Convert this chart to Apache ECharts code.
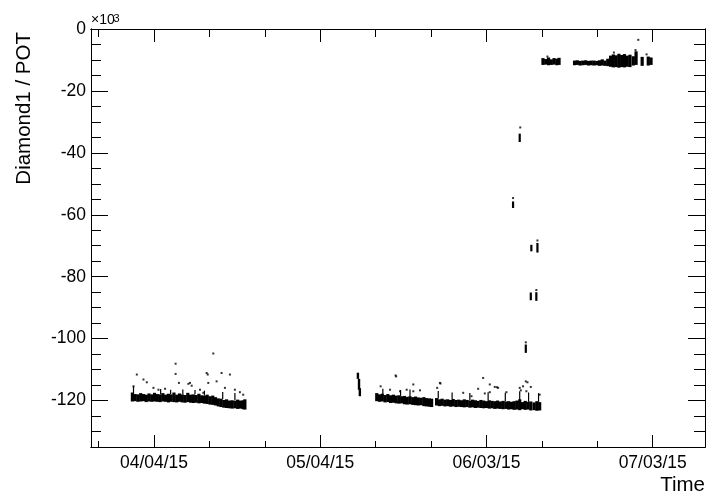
<!DOCTYPE html>
<html>
<head>
<meta charset="utf-8">
<script src="https://cdn.jsdelivr.net/npm/echarts@6/dist/echarts.min.js"></script>
<style>
  html, body { margin: 0; padding: 0; background: #fff; }
  #chart { width: 711px; height: 498px; }
</style>
</head>
<body>
<div id="chart"></div>
<script>
// Time axis: days counted from 04/04/15 (UTC)
const baseDate = Date.UTC(2015, 3, 4);
const xRange = [-11.37, 99.44];
const yRange = [-135, 0];

// Axis tick positions (days / units of 10^3)
const xMajorTicks = [0, 30, 60, 90];
const xMinorTicks = [-10, 10, 20, 40, 50, 70, 80];
const yMajorTicks = [0, -20, -40, -60, -80, -100, -120];
const yMinorTicks = [-5, -10, -15, -25, -30, -35, -45, -50, -55, -65, -70, -75,
                     -85, -90, -95, -105, -110, -115, -125, -130];

// Dense readout bands: [day, low, high] in units of 10^3
const bandApril = [
  [-3.9, -120.3, -117.4], [-3.4, -120.2, -117.9], [-2.9, -120.4, -118.0], [-2.4, -120.3, -117.6],
  [-1.9, -120.2, -117.9], [-1.4, -120.5, -118.1], [-0.9, -120.3, -117.7], [-0.4, -120.4, -118.0],
  [0.1, -120.3, -117.5], [0.6, -120.4, -117.9], [1.1, -120.5, -118.0], [1.6, -120.3, -117.6],
  [2.1, -120.4, -118.1], [2.6, -120.6, -117.8], [3.1, -120.4, -118.0], [3.6, -120.5, -117.4],
  [4.1, -120.6, -118.1], [4.6, -120.4, -117.7], [5.1, -120.6, -118.0], [5.6, -120.7, -118.2],
  [6.1, -120.5, -117.5], [6.6, -120.7, -118.1], [7.1, -120.8, -118.0], [7.6, -120.7, -118.2],
  [8.1, -120.9, -117.8], [8.6, -120.8, -118.3], [9.1, -121.0, -118.4], [9.6, -121.1, -118.1],
  [10.1, -121.3, -118.6], [10.6, -121.4, -118.4], [11.1, -121.6, -118.9], [11.6, -121.9, -119.3],
  [12.1, -122.1, -119.4], [12.6, -122.3, -119.8], [13.1, -122.4, -119.6], [13.6, -122.5, -120.0],
  [14.1, -122.6, -119.9], [14.6, -122.5, -120.1], [15.1, -122.7, -119.7], [15.6, -122.6, -120.0],
  [16.1, -122.8, -119.9], [16.4, -122.9, -119.6]
];

const bandMay = [
  [36.8, -113.0, -111.0], [37.0, -116.5, -113.0], [37.15, -118.6, -116.0]
];

const bandJune = [
  [40.2, -120.2, -117.6], [40.7, -120.4, -118.0], [41.2, -120.3, -117.8], [41.7, -120.6, -118.2],
  [42.2, -120.5, -117.9], [42.7, -120.8, -118.3], [43.2, -120.7, -118.1], [43.7, -120.9, -118.4],
  [44.2, -121.0, -118.3], [44.7, -120.9, -118.6], [45.2, -121.2, -118.5], [45.7, -121.3, -118.8],
  [46.2, -121.2, -118.6], [46.7, -121.4, -118.9], [47.2, -121.5, -118.7], [47.7, -121.6, -119.0],
  [48.2, -121.5, -119.1], [48.7, -121.8, -118.9], [49.2, -121.9, -119.2], [49.7, -122.0, -119.3],
  [50.1, -122.1, -119.4],
  [51.0, -121.6, -119.2], [51.5, -121.8, -119.6], [52.0, -121.7, -119.4], [52.5, -121.9, -119.7],
  [53.0, -121.8, -119.6], [53.5, -122.0, -119.8], [54.0, -121.9, -119.5], [54.5, -122.1, -119.8],
  [55.0, -122.0, -119.7], [55.5, -122.1, -119.9], [56.0, -122.2, -119.6], [56.5, -122.1, -119.8],
  [57.0, -122.3, -120.0], [57.5, -122.2, -119.7], [58.0, -122.4, -119.9], [58.5, -122.3, -120.1],
  [59.0, -122.4, -119.8], [59.5, -122.5, -120.0], [60.0, -122.4, -120.2], [60.5, -122.6, -119.9],
  [61.0, -122.5, -120.1], [61.5, -122.7, -120.2], [62.0, -122.6, -120.0], [62.5, -122.7, -120.3],
  [63.0, -122.8, -120.1], [63.5, -122.7, -120.3], [64.0, -122.9, -120.2], [64.5, -122.8, -120.4],
  [65.0, -123.0, -120.2], [65.5, -122.9, -120.0], [66.0, -123.1, -119.6], [66.5, -122.8, -120.5],
  [67.0, -123.0, -120.1], [67.5, -122.9, -120.4], [68.0, -123.2, -120.3], [68.6, -123.1, -120.6],
  [69.1, -123.3, -120.2], [69.6, -123.2, -120.5]
];

// Short runs while the level changes
const transitionRuns = [
  [66.0, -36.5, -33.8], [64.8, -57.8, -55.7], [68.1, -71.8, -69.7], [69.2, -72.2, -69.1],
  [68.0, -87.6, -85.1], [69.0, -87.8, -85.0], [67.1, -104.6, -101.9]
];

const bandJuly = [
  [70.2, -11.6, -9.4], [70.7, -11.5, -9.7], [71.2, -11.7, -9.2], [71.7, -11.6, -9.8],
  [72.2, -11.5, -9.4], [72.7, -11.7, -9.6], [73.1, -11.6, -9.3],
  [75.9, -11.7, -10.2], [76.4, -11.6, -10.1], [76.9, -11.8, -10.3], [77.4, -11.7, -10.2],
  [77.9, -11.6, -10.1], [78.4, -11.8, -10.3], [78.9, -11.7, -10.2], [79.4, -11.8, -10.2],
  [79.9, -11.7, -10.3], [80.4, -11.9, -10.1], [80.9, -11.8, -9.8], [81.4, -11.9, -10.2],
  [81.9, -12.0, -9.6], [82.4, -12.2, -8.6], [82.9, -12.4, -8.2], [83.4, -12.3, -8.5],
  [83.9, -12.5, -8.0], [84.4, -12.3, -8.4], [84.9, -12.4, -8.1], [85.4, -12.2, -8.6],
  [85.9, -12.3, -8.3], [86.5, -11.8, -8.8], [87.0, -11.6, -7.2], [88.1, -11.9, -9.0],
  [89.2, -11.8, -8.9], [89.7, -11.6, -9.2]
];

// Thin upward excursions on top of the bands
const spikes = [
  [-3.7, -118.0, -115.4], [1.2, -118.0, -116.3], [3.0, -118.0, -116.5], [5.2, -118.0, -116.4],
  [7.4, -118.0, -116.6], [9.1, -118.4, -116.8], [12.4, -119.5, -117.2], [14.6, -120.0, -117.6],
  [41.3, -118.0, -116.2], [44.5, -118.5, -116.6], [46.2, -118.7, -116.4], [51.3, -119.3, -116.9],
  [53.8, -119.6, -117.4], [57.0, -120.0, -117.6], [60.3, -120.0, -117.3], [63.4, -120.2, -117.5],
  [66.0, -120.0, -117.0], [67.6, -120.4, -117.4], [69.4, -120.4, -117.6]
];

// Isolated readings
const outliers = [
  [10.7, -104.8], [3.9, -108.1], [-3.1, -111.6], [3.9, -111.4], [-1.9, -113.2], [-1.3, -114.1],
  [-3.7, -115.4], [4.5, -114.3], [6.2, -114.6], [6.8, -115.2], [9.5, -111.1], [12.2, -111.1],
  [11.3, -113.8], [13.7, -111.6], [9.8, -114.3], [14.6, -116.5], [15.5, -117.3], [16.1, -118.1],
  [0.8, -116.5], [2.0, -116.2], [8.3, -116.5], [8.9, -117.5], [12.8, -115.9], [-0.1, -115.9],
  [6.5, -114.3], [9.7, -111.6],
  [43.6, -111.9], [40.9, -115.4], [46.8, -114.8], [45.6, -116.5], [44.4, -117.0], [48.0, -116.7],
  [51.7, -114.5], [51.1, -115.9], [42.6, -116.5], [43.7, -112.2], [51.6, -114.3], [59.4, -112.7],
  [60.6, -114.8], [61.5, -115.6], [62.1, -115.9], [67.1, -113.8], [66.0, -115.9], [67.2, -117.0],
  [46.8, -117.0], [55.8, -117.5], [69.6, -118.1], [61.9, -115.7], [60.6, -117.3], [63.6, -117.3],
  [67.4, -114.1], [66.6, -115.4], [66.2, -116.7], [58.5, -116.2], [57.3, -118.6], [68.0, -115.6],
  [59.7, -117.7],
  [66.1, -31.8], [64.8, -54.6], [69.2, -68.3], [69.0, -84.3], [67.1, -101.2],
  [87.4, -3.5], [71.0, -8.9], [83.0, -7.6], [86.9, -6.8], [88.9, -8.2]
];

function dateLabel(day) {
  const d = new Date(baseDate + Math.round(day) * 86400000);
  const p = n => String(n).padStart(2, '0');
  return p(d.getUTCMonth() + 1) + '/' + p(d.getUTCDate()) + '/' + p(d.getUTCFullYear() % 100);
}

const FONT = 'Liberation Sans, Arial, Helvetica, sans-serif';
const INK = '#000';

// Vertical run of readings drawn as a filled bar between low and high
function runRenderer(widthPx) {
  return function (params, api) {
    const x = api.value(0);
    const top = api.coord([x, api.value(2)]);
    const bottom = api.coord([x, api.value(1)]);
    return {
      type: 'rect',
      shape: { x: top[0] - widthPx / 2, y: top[1], width: widthPx, height: Math.max(1, bottom[1] - top[1]) },
      style: { fill: INK }
    };
  };
}

function xAxisDef(position, ticks, len, opts) {
  return Object.assign({
    type: 'value', position: position, min: xRange[0], max: xRange[1],
    axisLine: { show: true, onZero: false, lineStyle: { color: INK, width: 1 } },
    axisTick: { show: true, inside: true, length: len, customValues: ticks, lineStyle: { color: INK, width: 1 } },
    axisLabel: { show: false },
    splitLine: { show: false }
  }, opts || {});
}
function yAxisDef(position, ticks, len, opts) {
  return Object.assign({
    type: 'value', position: position, min: yRange[0], max: yRange[1],
    axisLine: { show: true, onZero: false, lineStyle: { color: INK, width: 1 } },
    axisTick: { show: true, inside: true, length: len, customValues: ticks, lineStyle: { color: INK, width: 1 } },
    axisLabel: { show: false },
    splitLine: { show: false }
  }, opts || {});
}

const chart = echarts.init(document.getElementById('chart'), null, { renderer: 'canvas' });

const option = {
  animation: false,
  backgroundColor: '#fff',
  grid: { left: 91, right: 6, top: 29, bottom: 51, containLabel: false, outerBoundsMode: 'none' },
  xAxis: [
    xAxisDef('bottom', xMajorTicks, 12, {
      axisLabel: {
        show: true, customValues: xMajorTicks, margin: 7,
        color: INK, fontFamily: FONT, fontSize: 17.5,
        formatter: v => dateLabel(v)
      }
    }),
    xAxisDef('bottom', xMinorTicks, 6),
    xAxisDef('top', xMajorTicks, 13),
    xAxisDef('top', xMinorTicks, 8)
  ],
  yAxis: [
    yAxisDef('left', yMajorTicks, 17, {
      axisLabel: {
        show: true, customValues: yMajorTicks, margin: 5,
        color: INK, fontFamily: FONT, fontSize: 17.5,
        formatter: v => String(v)
      }
    }),
    yAxisDef('left', yMinorTicks, 10),
    yAxisDef('right', yMajorTicks, 17),
    yAxisDef('right', yMinorTicks, 11)
  ],
  series: [
    { type: 'custom', name: 'band-april', renderItem: runRenderer(3.2), data: bandApril, silent: true },
    { type: 'custom', name: 'band-may', renderItem: runRenderer(2.4), data: bandMay, silent: true },
    { type: 'custom', name: 'band-june', renderItem: runRenderer(3.2), data: bandJune, silent: true },
    { type: 'custom', name: 'transition', renderItem: runRenderer(2.2), data: transitionRuns, silent: true },
    { type: 'custom', name: 'band-july', renderItem: runRenderer(3.2), data: bandJuly, silent: true },
    { type: 'custom', name: 'spikes', renderItem: runRenderer(1.2), data: spikes, silent: true },
    {
      type: 'scatter', name: 'outliers', data: outliers, silent: true,
      symbol: 'rect', symbolSize: 2, itemStyle: { color: INK }
    }
  ],
  graphic: [
    {
      type: 'text', x: 91, y: 27,
      style: { text: '×10', font: '14px ' + FONT, fill: INK, align: 'left', verticalAlign: 'bottom' }
    },
    {
      type: 'text', x: 113.5, y: 13,
      style: { text: '3', font: '11px ' + FONT, fill: INK, align: 'left', verticalAlign: 'top' }
    },
    {
      type: 'text', x: 24, y: 32, rotation: Math.PI / 2,
      style: { text: 'Diamond1 / POT', font: '20.5px ' + FONT, fill: INK, align: 'right', verticalAlign: 'middle' }
    },
    {
      type: 'text', x: 705, y: 485,
      style: { text: 'Time', font: '20.5px ' + FONT, fill: INK, align: 'right', verticalAlign: 'middle' }
    }
  ]
};

chart.setOption(option);
</script>
</body>
</html>
